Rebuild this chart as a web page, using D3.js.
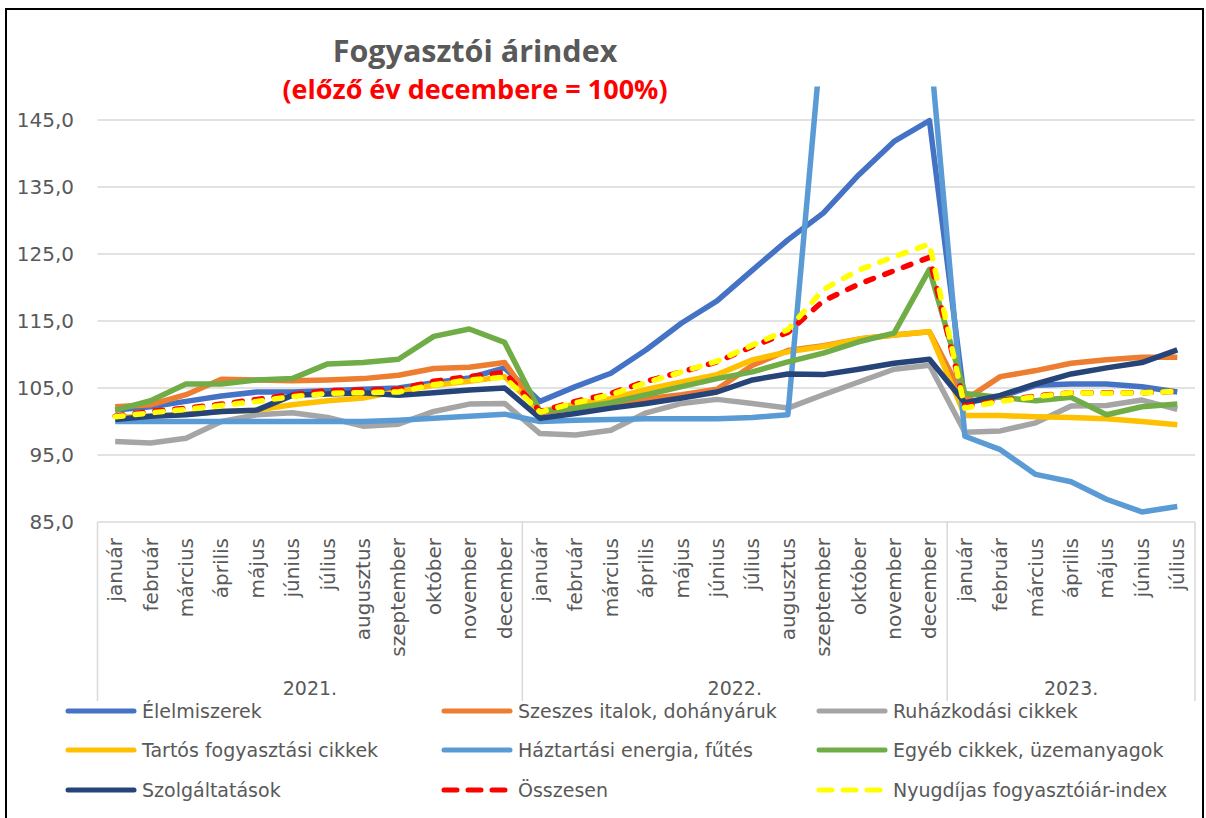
<html>
<head>
    <title>Fogyasztói árindex</title>
    <script type="text/javascript" src="https://d3js.org/d3.v7.min.js"></script>
    <style>
        body {
            margin: 0;
            background: white;
            font-family: "DejaVu Sans", sans-serif;
        }

        .tick-label, .month, .year, .legend-text {
            fill: #595959;
        }

        .grid {
            stroke: #d9d9d9;
            stroke-width: 1.5px;
        }

        .series {
            fill: none;
            stroke-width: 5.5px;
            stroke-linejoin: round;
        }
    </style>
</head>
<body>
<div id="chart"></div>

<script>
    var months = ["január", "február", "március", "április", "május", "június", "július",
        "augusztus", "szeptember", "október", "november", "december"];
    var years = ["2021.", "2022.", "2023."];
    var monthsPerYear = [12, 12, 7];
    var yTicks = [85, 95, 105, 115, 125, 135, 145];

    var seriesNames = ["Élelmiszerek", "Szeszes italok, dohányáruk", "Ruházkodási cikkek",
        "Tartós fogyasztási cikkek", "Háztartási energia, fűtés", "Egyéb cikkek, üzemanyagok",
        "Szolgáltatások", "Összesen", "Nyugdíjas fogyasztóiár-index"];
    var seriesColors = ["#4472c4", "#ed7d31", "#a5a5a5", "#ffc000", "#5b9bd5", "#70ad47",
        "#264478", "#ff0000", "#ffff00"];
    var seriesDashed = [false, false, false, false, false, false, false, true, true];

    var elelmiszerek = [101.7, 102.2, 103.0, 103.8, 104.4, 104.4, 104.6, 104.8, 105.0, 105.8, 106.5, 108.0,
        103.0, 105.2, 107.2, 110.7, 114.7, 118.0, 122.6, 127.1, 131.1, 136.8, 141.8, 144.9,
        102.8, 103.7, 105.4, 105.6, 105.6, 105.2, 104.4];
    var szeszes = [102.2, 102.5, 104.0, 106.3, 106.2, 106.1, 106.2, 106.4, 106.9, 107.9, 108.1, 108.8,
        101.3, 102.0, 102.7, 103.4, 104.0, 104.8, 108.4, 110.6, 111.3, 112.3, 112.9, 113.4,
        103.2, 106.7, 107.6, 108.7, 109.2, 109.6, 109.6];
    var ruhazkodasi = [97.0, 96.8, 97.5, 100.0, 101.0, 101.3, 100.6, 99.3, 99.6, 101.5, 102.6, 102.7,
        98.2, 98.0, 98.7, 101.3, 102.7, 103.3, 102.7, 102.0, 104.0, 105.9, 107.8, 108.4,
        98.4, 98.6, 99.8, 102.3, 102.4, 103.2, 101.8];
    var tartos = [100.6, 100.8, 101.1, 101.5, 101.7, 102.5, 103.1, 103.5, 104.5, 105.4, 106.0, 106.7,
        101.5, 102.6, 103.4, 104.8, 105.9, 107.0, 109.2, 110.4, 111.2, 112.3, 112.9, 113.4,
        100.9, 100.9, 100.7, 100.6, 100.4, 100.0, 99.5];
    var haztartasi = [100.0, 100.0, 100.0, 100.0, 100.0, 100.0, 100.0, 100.0, 100.2, 100.5, 100.8, 101.1,
        100.0, 100.2, 100.3, 100.4, 100.4, 100.4, 100.6, 101.0, 160.0, 162.0, 161.0, 157.0,
        97.8, 95.8, 92.1, 91.0, 88.4, 86.5, 87.3];
    var egyeb = [101.7, 103.1, 105.6, 105.6, 106.2, 106.4, 108.6, 108.8, 109.3, 112.7, 113.8, 111.8,
        101.5, 102.0, 102.8, 104.0, 105.2, 106.4, 107.4, 108.9, 110.2, 111.9, 113.2, 122.7,
        104.2, 103.6, 103.1, 103.6, 101.0, 102.2, 102.6];
    var szolgaltatasok = [100.3, 100.8, 101.0, 101.5, 101.7, 103.9, 104.1, 104.3, 103.9, 104.3, 104.7, 105.0,
        100.5, 101.2, 102.0, 102.7, 103.5, 104.4, 106.2, 107.1, 107.0, 107.8, 108.7, 109.3,
        102.8, 103.9, 105.6, 107.1, 108.0, 108.8, 110.7];
    var osszesen = [100.8, 101.5, 102.0, 102.6, 103.3, 104.0, 104.6, 104.7, 104.8, 106.0, 106.7, 107.3,
        101.5, 103.0, 104.2, 106.0, 107.4, 108.9, 111.2, 113.3, 118.0, 120.5, 122.5, 124.5,
        102.3, 103.1, 103.8, 104.3, 104.3, 104.3, 104.5];
    var nyugdijas = [100.7, 101.3, 101.8, 102.4, 103.0, 103.7, 104.2, 104.3, 104.4, 105.5, 106.2, 106.6,
        101.4, 102.8, 104.0, 105.8, 107.4, 109.0, 111.4, 113.7, 119.7, 122.6, 124.6, 126.5,
        102.0, 103.0, 103.7, 104.3, 104.2, 104.3, 104.5];

    var seriesValues = [elelmiszerek, szeszes, ruhazkodasi, tartos, haztartasi, egyeb,
        szolgaltatasok, osszesen, nyugdijas];

    // categories: one per month, with the year it belongs to
    var categories = [];
    monthsPerYear.forEach(function (n, yi) {
        for (var m = 0; m < n; m++) {
            categories.push({year: yi, month: months[m], idx: categories.length});
        }
    });

    var width = 1206, height = 818;
    var plot = {left: 97.5, right: 1195, top: 86.5, bottom: 522};

    var svg = d3.select("#chart").append("svg")
        .attr("width", width)
        .attr("height", height);

    var x = d3.scalePoint()
        .domain(categories.map(function (d) { return d.idx; }))
        .range([plot.left, plot.right])
        .padding(0.5);
    var step = x.step();

    var y = d3.scaleLinear()
        .domain([85, 150])
        .range([plot.bottom, plot.top]);

    // outer frame
    svg.append("rect")
        .attr("x", 6).attr("y", 9)
        .attr("width", 1197).attr("height", 840)
        .attr("fill", "none")
        .attr("stroke", "black")
        .attr("stroke-width", 2);

    // title
    svg.append("text")
        .attr("x", 475).attr("y", 62)
        .attr("text-anchor", "middle")
        .style("font-family", "'Open Sans', sans-serif")
        .style("font-weight", "bold")
        .style("font-size", "30.5px")
        .style("fill", "#595959")
        .text("Fogyasztói árindex");
    svg.append("text")
        .attr("x", 475).attr("y", 99)
        .attr("text-anchor", "middle")
        .style("font-family", "'Open Sans', sans-serif")
        .style("font-weight", "bold")
        .style("font-size", "27px")
        .style("fill", "#ff0000")
        .text("(előző év decembere = 100%)");

    // gridlines + y labels
    svg.append("g").selectAll("line")
        .data(yTicks)
        .join("line")
        .attr("class", "grid")
        .attr("x1", plot.left).attr("x2", plot.right)
        .attr("y1", function (d) { return y(d); })
        .attr("y2", function (d) { return y(d); });

    svg.append("g").selectAll("text")
        .data(yTicks)
        .join("text")
        .attr("class", "tick-label")
        .attr("x", 74)
        .attr("y", function (d) { return y(d); })
        .attr("dy", "0.35em")
        .attr("text-anchor", "end")
        .style("font-size", "20px")
        .text(function (d) { return d3.format(".1f")(d).replace(".", ","); });

    // multi-level category axis
    var bounds = [0];
    monthsPerYear.forEach(function (n) { bounds.push(bounds[bounds.length - 1] + n); });
    svg.append("g").selectAll("line")
        .data(bounds)
        .join("line")
        .attr("class", "grid")
        .attr("x1", function (b) { return plot.left + b * step; })
        .attr("x2", function (b) { return plot.left + b * step; })
        .attr("y1", plot.bottom)
        .attr("y2", 701);

    svg.append("g").selectAll("text")
        .data(categories)
        .join("text")
        .attr("class", "month")
        .attr("text-anchor", "end")
        .style("font-size", "20px")
        .attr("transform", function (d) {
            return "translate(" + (x(d.idx) + 7) + ",538) rotate(-90)";
        })
        .text(function (d) { return d.month; });

    svg.append("g").selectAll("text")
        .data(years)
        .join("text")
        .attr("class", "year")
        .attr("text-anchor", "middle")
        .style("font-size", "19px")
        .attr("x", function (d, i) { return plot.left + (bounds[i] + bounds[i + 1]) / 2 * step; })
        .attr("y", 695)
        .text(function (d) { return d; });

    // series lines
    svg.append("clipPath").attr("id", "plotclip")
        .append("rect")
        .attr("x", plot.left).attr("y", plot.top)
        .attr("width", plot.right - plot.left)
        .attr("height", plot.bottom - plot.top + 10);

    var line = d3.line()
        .x(function (d, i) { return x(i); })
        .y(function (d) { return y(d); });

    svg.append("g")
        .attr("clip-path", "url(#plotclip)")
        .selectAll("path")
        .data(seriesValues)
        .join("path")
        .attr("class", "series")
        .attr("d", function (d) { return line(d); })
        .attr("stroke", function (d, i) { return seriesColors[i]; })
        .attr("stroke-dasharray", function (d, i) { return seriesDashed[i] ? "8,12" : null; })
        .attr("stroke-linecap", function (d, i) { return seriesDashed[i] ? "round" : "butt"; });

    // legend
    var legendCols = [65, 441, 816];
    var legendRows = [711, 750, 790];
    var legend = svg.append("g").selectAll("g")
        .data(seriesNames)
        .join("g")
        .attr("transform", function (d, i) {
            return "translate(" + legendCols[i % 3] + "," + legendRows[Math.floor(i / 3)] + ")";
        });

    legend.append("line")
        .attr("x1", 3).attr("x2", 69)
        .attr("y1", 0).attr("y2", 0)
        .attr("stroke", function (d, i) { return seriesColors[i]; })
        .attr("stroke-width", 5)
        .attr("stroke-linecap", "round")
        .attr("stroke-dasharray", function (d, i) { return seriesDashed[i] ? "13,11" : null; });

    legend.append("text")
        .attr("class", "legend-text")
        .attr("x", 77)
        .attr("y", 0)
        .attr("dy", "0.35em")
        .style("font-size", "19px")
        .text(function (d) { return d; });
</script>
</body>
</html>
